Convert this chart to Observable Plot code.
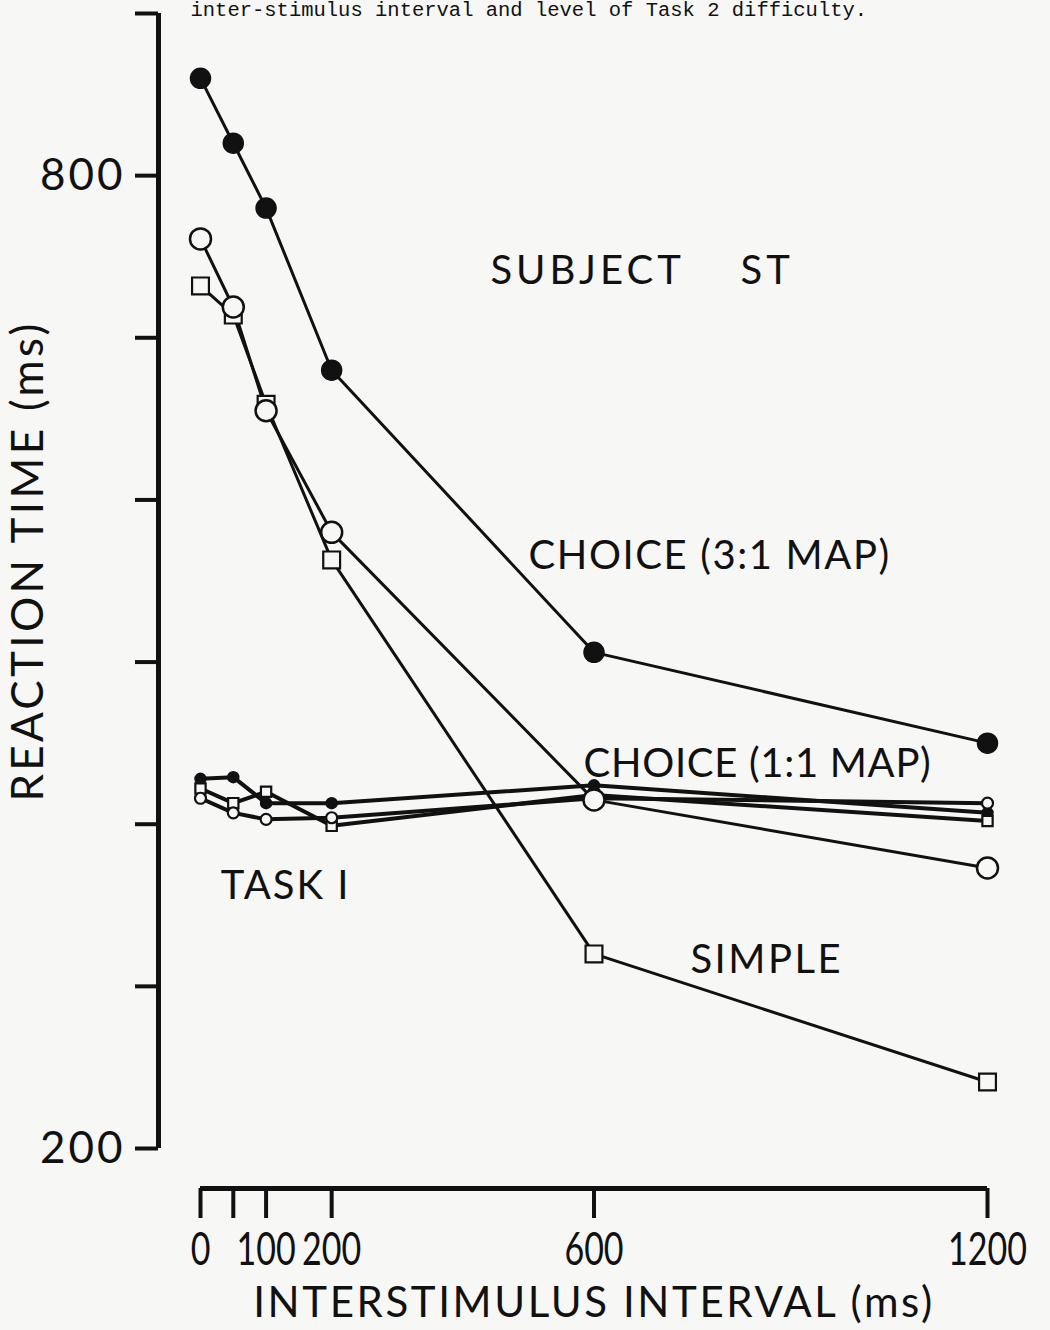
<!DOCTYPE html>
<html>
<head>
<meta charset="utf-8">
<script src="https://cdn.jsdelivr.net/npm/d3@7"></script>
<script src="https://cdn.jsdelivr.net/npm/@observablehq/plot@0.6"></script>
<style>
  html, body { margin: 0; padding: 0; background: #f7f7f6; }
  #chart { width: 1050px; height: 1330px; overflow: hidden; }
</style>
</head>
<body>
<div id="chart"></div>
<script>
// ---- data ----
const intervals = [0, 50, 100, 200, 600, 1200];
const choice31 = [860, 820, 780, 680, 506, 450];
const choice11 = [761, 719, 655, 580, 415, 373];
const simple = [732, 714, 659, 563, 320, 241];
const task1Filled = [428, 429, 413, 413, 424, 407];
const task1Square = [422, 413, 420, 399, 418, 402];
const task1Open = [416, 407, 403, 404, 416, 413];

const xTickValues = [0, 50, 100, 200, 600, 1200];
const xTickLabels = [0, 100, 200, 600, 1200];
const yTickValues = [200, 300, 400, 500, 600, 700, 800, 900];
const yTickLabels = [200, 800];

const annotations = [
  {text: "SUBJECT    ST", x: 442, y: 741},
  {text: "CHOICE (3:1 MAP)", x: 500, y: 565},
  {text: "CHOICE (1:1 MAP)", x: 584, y: 437},
  {text: "TASK I", x: 31, y: 362},
  {text: "SIMPLE", x: 747, y: 316}
];
const caption = "inter-stimulus interval and level of Task 2 difficulty.";
const xTitle = "INTERSTIMULUS INTERVAL (ms)";
const yTitle = "REACTION TIME (ms)";

const toRows = (vals) => intervals.map((x, i) => ({x, y: vals[i]}));
const ink = "#111";
const bg = "#f7f7f6";
const font = "Lato, 'DejaVu Sans', sans-serif";
// letter spacing per lettered label (style only)
const annSpacing = {"SUBJECT    ST": 4, "CHOICE (3:1 MAP)": 1.6, "CHOICE (1:1 MAP)": 0.7, "TASK I": 2, "SIMPLE": 2.5};

const chart = Plot.plot({
  width: 1050,
  height: 1330,
  marginLeft: 200,
  marginRight: 63,
  marginTop: 13,
  marginBottom: 182,
  style: {background: bg, fontFamily: font, color: ink},
  x: {domain: [0, 1200], axis: null},
  y: {domain: [200, 900], axis: null},
  marks: [
    // caption (cropped at top)
    Plot.text([caption], {frameAnchor: "top-left", textAnchor: "start", lineAnchor: "bottom", dx: -10, dy: 2,
      fontFamily: "'Liberation Mono', monospace", fontSize: 20.5, fill: ink}),
    // y axis
    Plot.ruleX([0], {y1: 200, y2: 900, dx: -42, stroke: ink, strokeWidth: 5}),
    Plot.axisY({ticks: yTickValues, tickSize: 23, dx: -42, tickFormat: () => "", strokeWidth: 4, stroke: ink, label: null}),
    Plot.axisY({ticks: yTickLabels, tickSize: 0, dx: -42, tickPadding: 33, fontSize: 44, tickFormat: d => String(d), fill: ink, label: null}),
    // x axis
    Plot.ruleY([200], {x1: 0, x2: 1200, dy: 40, stroke: ink, strokeWidth: 5}),
    Plot.axisX({ticks: xTickValues, tickSize: 30, dy: 40, tickFormat: () => "", strokeWidth: 4, stroke: ink, label: null}),
    Plot.axisX({ticks: xTickLabels, tickSize: 0, dy: 40, tickPadding: 44, fontSize: 46, tickFormat: d => String(d), fill: ink, label: null}),
    // axis titles
    Plot.text([yTitle], {frameAnchor: "left", textAnchor: "middle", rotate: -90, dx: -172, dy: -20, fontSize: 44, fill: ink}),
    Plot.text([xTitle], {frameAnchor: "bottom", textAnchor: "middle", dy: 168, fontSize: 42, fill: ink}),
    // task 1 lines
    Plot.line(toRows(task1Filled), {x: "x", y: "y", stroke: ink, strokeWidth: 4}),
    Plot.line(toRows(task1Square), {x: "x", y: "y", stroke: ink, strokeWidth: 4}),
    Plot.line(toRows(task1Open), {x: "x", y: "y", stroke: ink, strokeWidth: 4}),
    Plot.dot(toRows(task1Filled), {x: "x", y: "y", r: 5.5, fill: ink, stroke: ink}),
    Plot.dot(toRows(task1Square), {x: "x", y: "y", r: 5.8, symbol: "square", fill: bg, stroke: ink, strokeWidth: 2.2}),
    Plot.dot(toRows(task1Open), {x: "x", y: "y", r: 5.5, fill: bg, stroke: ink, strokeWidth: 2.2}),
    // task 2 lines
    Plot.line(toRows(choice31), {x: "x", y: "y", stroke: ink, strokeWidth: 3}),
    Plot.line(toRows(choice11), {x: "x", y: "y", stroke: ink, strokeWidth: 3}),
    Plot.line(toRows(simple), {x: "x", y: "y", stroke: ink, strokeWidth: 3}),
    Plot.dot(toRows(simple), {x: "x", y: "y", r: 9.5, symbol: "square", fill: bg, stroke: ink, strokeWidth: 2.2}),
    Plot.dot(toRows(choice11), {x: "x", y: "y", r: 10.5, fill: bg, stroke: ink, strokeWidth: 2.5}),
    Plot.dot(toRows(choice31), {x: "x", y: "y", r: 10, fill: ink, stroke: ink}),
    // annotations
    Plot.text(annotations, {x: "x", y: "y", text: "text", textAnchor: "start", fontSize: 40, fill: ink})
  ]
});
// letter spacing / condensing (not Plot options) applied as presentation attributes
const svg = d3.select(chart);
const xLabelTexts = xTickLabels.map(String);
svg.selectAll("text").each(function () {
  const t = this.textContent;
  const sel = d3.select(this);
  if (t in annSpacing) sel.attr("letter-spacing", annSpacing[t]);
  else if (t === yTitle) sel.attr("letter-spacing", 3.3);
  else if (t === xTitle) sel.attr("letter-spacing", 2.6);
});
svg.selectAll('g[aria-label="y-axis tick label"]').attr("letter-spacing", 3);
svg.selectAll('g[aria-label="x-axis tick label"] text').each(function () {
  if (!xLabelTexts.includes(this.textContent)) return;
  const tr = this.getAttribute("transform") || "";
  this.setAttribute("transform", tr + " scale(0.74,1)");
});
document.getElementById("chart").appendChild(chart);
</script>
</body>
</html>
